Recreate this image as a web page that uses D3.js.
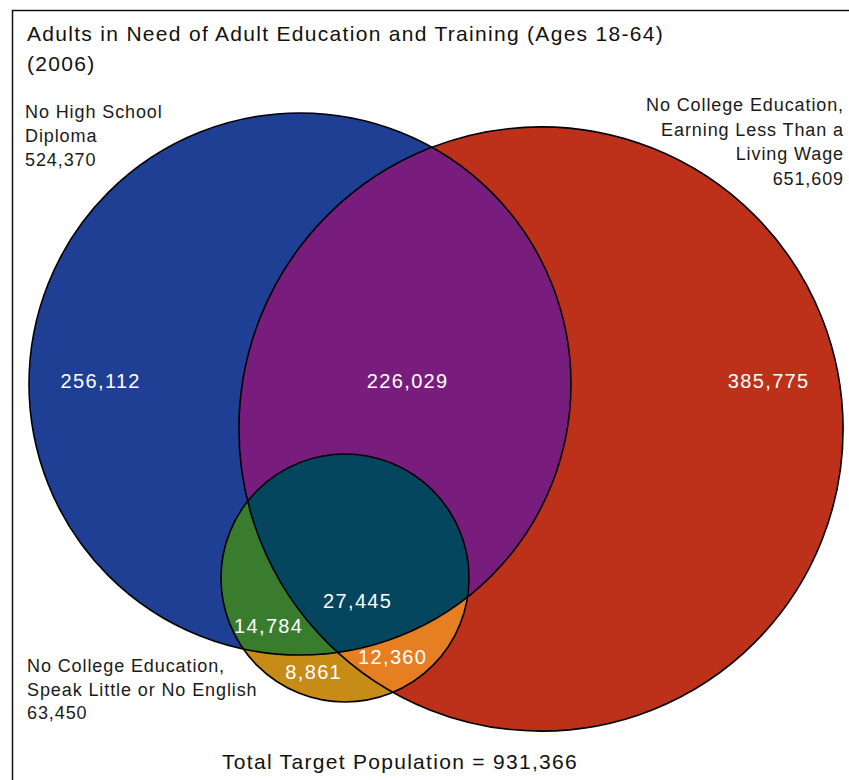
<!DOCTYPE html>
<html>
<head>
<meta charset="utf-8">
<script src="https://cdn.jsdelivr.net/npm/d3@7/dist/d3.min.js"></script>
<style>
  html, body { margin: 0; padding: 0; background: #fff; }
  svg { display: block; font-family: "Liberation Sans", Arial, sans-serif; }
</style>
</head>
<body>
<svg id="chart" width="849" height="780"></svg>
<script>
// Set names, totals and exclusive region counts
const setKeys = ["hs", "wage", "english"];
const setNames = [
  ["No High School", "Diploma"],
  ["No College Education,", "Earning Less Than a", "Living Wage"],
  ["No College Education,", "Speak Little or No English"]
];
const setTotals = [524370, 651609, 63450];

// Region membership (which sets) and counts
const regionSets = [["hs"], ["hs", "wage"], ["wage"], ["hs", "wage", "english"], ["hs", "english"], ["english"], ["wage", "english"]];
const regionValues = [256112, 226029, 385775, 27445, 14784, 8861, 12360];
const totalPopulation = 931366;

const titleLines = ["Adults in Need of Adult Education and Training (Ages 18-64)", "(2006)"];

const fmt = d3.format(",");
const svg = d3.select("#chart");

// Radius scale for the two large sets (area proportional to population)
const rScale = d3.scaleSqrt().domain([0, setTotals[0]]).range([0, 271]);

// Circle layout
const circles = {
  hs:      { cx: 300, cy: 384, r: rScale(setTotals[0]) },
  wage:    { cx: 541, cy: 429, r: rScale(setTotals[1]) },
  english: { cx: 345, cy: 578, r: 124 }
};

// Fill for each combination of sets
const regionFill = {
  "hs": "#1f3f95",
  "wage": "#bd311b",
  "english": "#c78b17",
  "hs|wage": "#781d7e",
  "english|hs": "#3a7c2e",
  "english|wage": "#e67e22",
  "english|hs|wage": "#03465e"
};

// Label anchor points for each region
const regionLabelPos = [
  [100, 388], [407, 388], [768, 388], [357, 608], [268, 633], [313, 679], [392, 664]
];

// Frame
svg.append("rect")
  .attr("x", 12.5).attr("y", 10.5)
  .attr("width", 900).attr("height", 900)
  .attr("fill", "none").attr("stroke", "#111").attr("stroke-width", 1.5);

const defs = svg.append("defs");
setKeys.forEach(k => {
  const c = circles[k];
  defs.append("clipPath").attr("id", "clip-" + k)
    .append("circle").attr("cx", c.cx).attr("cy", c.cy).attr("r", c.r);
});

const g = svg.append("g");

// Draw a circle clipped successively by the given sets
function clippedCircle(baseKey, clipKeys, fill) {
  let parent = g;
  clipKeys.forEach(k => {
    parent = parent.append("g").attr("clip-path", `url(#clip-${k})`);
  });
  const c = circles[baseKey];
  parent.append("circle")
    .attr("cx", c.cx).attr("cy", c.cy).attr("r", c.r)
    .attr("fill", fill);
}

// Each region: fill the last set's circle, clipped by the others
regionSets
  .map(s => s.slice())
  .sort((a, b) => a.length - b.length || (a.includes("english") - b.includes("english")))
  .forEach(s => {
    const key = s.slice().sort().join("|");
    const base = s.includes("english") ? "english" : s[s.length - 1];
    clippedCircle(base, s.filter(k => k !== base), regionFill[key]);
  });

// Outlines
setKeys.forEach(k => {
  const c = circles[k];
  g.append("circle")
    .attr("cx", c.cx).attr("cy", c.cy).attr("r", c.r)
    .attr("fill", "none").attr("stroke", "#000").attr("stroke-width", 1.6);
});

// Region counts
g.selectAll("text.region")
  .data(regionValues)
  .join("text")
  .attr("class", "region")
  .attr("x", (d, i) => regionLabelPos[i][0] + 0.7)
  .attr("y", (d, i) => regionLabelPos[i][1])
  .attr("text-anchor", "middle")
  .attr("fill", "#fff")
  .attr("font-size", 20)
  .attr("letter-spacing", 1.35)
  .text(d => fmt(d));

// Title
svg.append("text")
  .attr("x", 27).attr("y", 41)
  .attr("font-size", 21).attr("fill", "#111")
  .attr("letter-spacing", 1.3)
  .selectAll("tspan")
  .data(titleLines)
  .join("tspan")
  .attr("x", 27)
  .attr("dy", (d, i) => i === 0 ? 0 : 30)
  .text(d => d);

// Set labels
const setLabelLayout = [
  { x: 25, y: 118, anchor: "start", lh: 24 },
  { x: 844, y: 111, anchor: "end", lh: 24.7 },
  { x: 27, y: 672, anchor: "start", lh: 23.5 }
];
setKeys.forEach((k, i) => {
  const L = setLabelLayout[i];
  const lines = setNames[i].concat([fmt(setTotals[i])]);
  svg.append("text")
    .attr("x", L.x).attr("y", L.y)
    .attr("text-anchor", L.anchor)
    .attr("font-size", 18).attr("fill", "#1a1a1a")
    .attr("letter-spacing", 0.9)
    .selectAll("tspan")
    .data(lines)
    .join("tspan")
    .attr("x", L.x)
    .attr("dy", (d, j) => j === 0 ? 0 : L.lh)
    .text(d => d);
});

// Total
svg.append("text")
  .attr("x", 400).attr("y", 769)
  .attr("text-anchor", "middle")
  .attr("font-size", 21).attr("fill", "#111")
  .attr("letter-spacing", 1.3)
  .text("Total Target Population = " + fmt(totalPopulation));
</script>
</body>
</html>
